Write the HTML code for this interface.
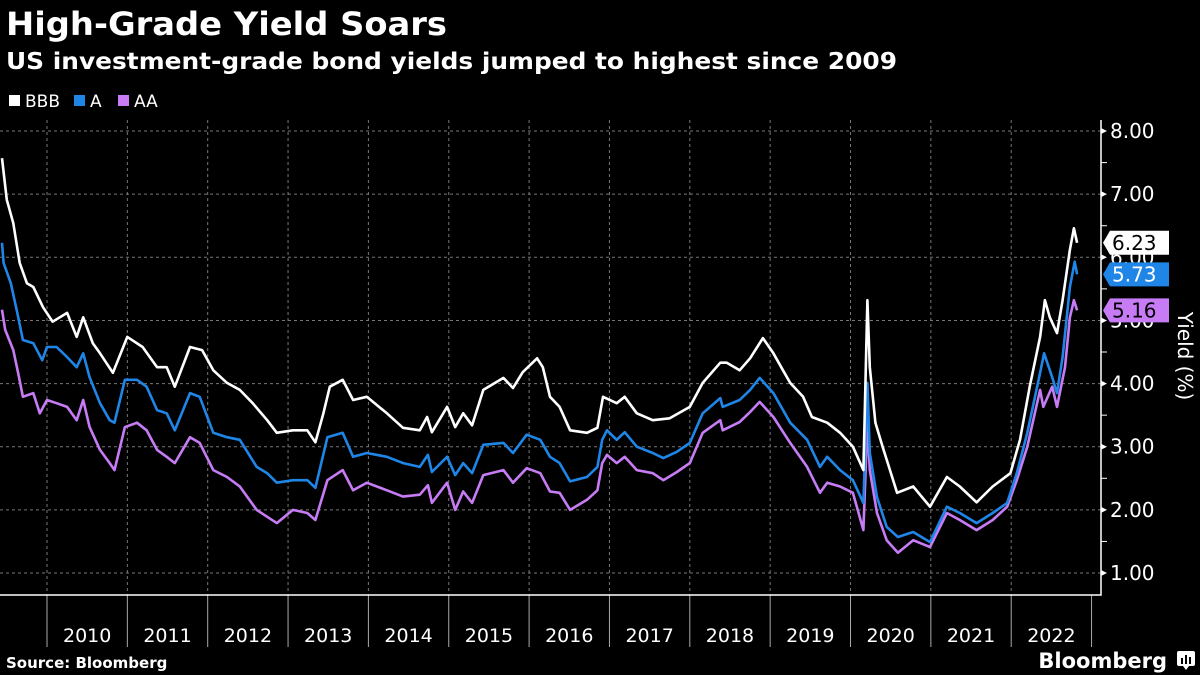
<!DOCTYPE html>
<html><head><meta charset="utf-8"><style>
body{margin:0;background:#000;width:1200px;height:675px;overflow:hidden}
svg{display:block}
text{font-family:"DejaVu Sans","Liberation Sans",sans-serif}
</style></head><body>
<svg id="c" width="1200" height="675" viewBox="0 0 1200 675">
<text x="6" y="35" fill="#fff" font-size="32" font-weight="bold" textLength="441" lengthAdjust="spacingAndGlyphs">High-Grade Yield Soars</text>
<text x="6" y="69" fill="#fff" font-size="23" font-weight="bold" textLength="891" lengthAdjust="spacingAndGlyphs">US investment-grade bond yields jumped to highest since 2009</text>
<g>
<g><rect x="9" y="95" width="11" height="11" fill="#fff"/><text x="25" y="107" fill="#fff" font-size="17" font-family="Liberation Sans">BBB</text></g>
<g><rect x="74" y="95" width="11" height="11" fill="#1f86e8"/><text x="90" y="107" fill="#fff" font-size="17" font-family="Liberation Sans">A</text></g>
<g><rect x="118" y="95" width="11" height="11" fill="#c77cf5"/><text x="134" y="107" fill="#fff" font-size="17" font-family="Liberation Sans">AA</text></g>
</g>
<g id="grid"></g>
<g id="axes"></g>
<g id="series"></g>
<g id="tags"></g>
<text transform="translate(1178,356) rotate(90)" text-anchor="middle" fill="#fff" font-size="20" font-family="Liberation Sans">Yield (%)</text>
<text x="6" y="668" fill="#fff" font-size="15" font-weight="bold">Source: Bloomberg</text>
<text x="1167" y="668" text-anchor="end" fill="#fff" font-size="21" font-weight="bold" font-family="Liberation Sans">Bloomberg</text>
<g><rect x="1177" y="651" width="18" height="15" rx="2" fill="#fff"/><path d="M1183 666 l3 4 l3 -4z" fill="#fff"/><rect x="1181" y="658" width="2" height="6" fill="#000"/><rect x="1185" y="655" width="2" height="9" fill="#000"/><rect x="1189" y="657" width="2" height="7" fill="#000"/></g>
</svg>
<script>
const yTicks=[1,2,3,4,5,6,7,8];
const years=[2010,2011,2012,2013,2014,2015,2016,2017,2018,2019,2020,2021,2022];
const bbbDates=[2009.44,2009.50,2009.58,2009.66,2009.75,2009.83,2009.95,2010.07,2010.25,2010.37,2010.45,2010.57,2010.66,2010.82,2011.00,2011.19,2011.37,2011.49,2011.59,2011.78,2011.93,2012.07,2012.24,2012.40,2012.56,2012.74,2012.86,2013.06,2013.24,2013.34,2013.44,2013.52,2013.68,2013.81,2013.98,2014.23,2014.43,2014.64,2014.73,2014.79,2014.98,2015.08,2015.18,2015.29,2015.43,2015.68,2015.80,2015.92,2016.10,2016.17,2016.26,2016.38,2016.51,2016.72,2016.85,2016.92,2017.09,2017.19,2017.34,2017.54,2017.75,2018.00,2018.16,2018.38,2018.46,2018.62,2018.75,2018.91,2019.04,2019.16,2019.25,2019.41,2019.52,2019.71,2019.87,2020.03,2020.16,2020.21,2020.24,2020.31,2020.40,2020.58,2020.78,2020.99,2021.20,2021.36,2021.57,2021.77,2021.99,2022.11,2022.23,2022.36,2022.42,2022.48,2022.57,2022.64,2022.73,2022.78,2022.82];
const bbbValues=[7.57,6.91,6.54,5.91,5.59,5.53,5.21,4.98,5.12,4.74,5.05,4.64,4.48,4.17,4.74,4.58,4.26,4.26,3.95,4.58,4.53,4.21,4.01,3.90,3.69,3.42,3.22,3.26,3.26,3.07,3.53,3.95,4.06,3.74,3.79,3.53,3.30,3.26,3.47,3.23,3.63,3.31,3.53,3.34,3.90,4.09,3.93,4.18,4.40,4.26,3.79,3.63,3.26,3.22,3.30,3.79,3.69,3.79,3.53,3.42,3.45,3.63,4.01,4.33,4.33,4.21,4.40,4.72,4.48,4.21,4.01,3.79,3.47,3.38,3.22,3.00,2.63,5.32,4.26,3.38,3.00,2.27,2.37,2.05,2.52,2.37,2.12,2.37,2.58,3.11,3.95,4.74,5.32,5.05,4.80,5.32,6.12,6.46,6.23];
const aDates=[2009.44,2009.46,2009.55,2009.63,2009.70,2009.83,2009.94,2010.00,2010.12,2010.25,2010.37,2010.45,2010.53,2010.66,2010.78,2010.84,2010.97,2011.12,2011.24,2011.37,2011.49,2011.59,2011.78,2011.90,2012.07,2012.24,2012.40,2012.61,2012.74,2012.86,2013.06,2013.24,2013.34,2013.49,2013.68,2013.81,2013.98,2014.23,2014.43,2014.64,2014.74,2014.79,2014.98,2015.08,2015.18,2015.29,2015.43,2015.68,2015.80,2015.97,2016.14,2016.26,2016.38,2016.51,2016.72,2016.85,2016.91,2016.97,2017.09,2017.19,2017.34,2017.54,2017.67,2017.84,2018.00,2018.16,2018.38,2018.41,2018.62,2018.75,2018.87,2019.04,2019.25,2019.46,2019.62,2019.71,2019.87,2020.03,2020.16,2020.21,2020.24,2020.33,2020.45,2020.59,2020.78,2020.99,2021.20,2021.36,2021.57,2021.77,2021.95,2022.07,2022.20,2022.36,2022.41,2022.51,2022.57,2022.64,2022.73,2022.79,2022.82];
const aValues=[6.23,5.91,5.59,5.12,4.69,4.64,4.37,4.58,4.58,4.42,4.26,4.48,4.10,3.69,3.42,3.38,4.06,4.06,3.95,3.58,3.53,3.26,3.85,3.79,3.22,3.15,3.11,2.68,2.58,2.43,2.47,2.47,2.35,3.15,3.22,2.84,2.90,2.84,2.74,2.68,2.87,2.60,2.84,2.55,2.74,2.58,3.03,3.06,2.90,3.19,3.11,2.84,2.74,2.45,2.52,2.68,3.11,3.26,3.11,3.23,3.00,2.90,2.82,2.92,3.06,3.53,3.77,3.63,3.74,3.90,4.09,3.85,3.38,3.11,2.68,2.84,2.63,2.47,2.11,4.01,2.90,2.20,1.73,1.57,1.65,1.49,2.05,1.95,1.79,1.95,2.11,2.58,3.22,4.17,4.48,4.10,3.85,4.42,5.53,5.93,5.73];
const aaDates=[2009.44,2009.48,2009.58,2009.64,2009.70,2009.83,2009.91,2010.00,2010.12,2010.25,2010.37,2010.45,2010.53,2010.66,2010.78,2010.84,2010.97,2011.12,2011.24,2011.37,2011.49,2011.59,2011.78,2011.90,2012.07,2012.24,2012.40,2012.61,2012.74,2012.86,2013.06,2013.24,2013.34,2013.49,2013.68,2013.81,2013.98,2014.23,2014.43,2014.64,2014.74,2014.79,2014.98,2015.08,2015.18,2015.29,2015.43,2015.68,2015.80,2015.97,2016.14,2016.26,2016.38,2016.51,2016.72,2016.85,2016.91,2016.97,2017.09,2017.19,2017.34,2017.54,2017.67,2017.84,2018.00,2018.16,2018.38,2018.41,2018.62,2018.75,2018.87,2019.04,2019.25,2019.46,2019.62,2019.71,2019.87,2020.03,2020.16,2020.21,2020.24,2020.33,2020.45,2020.59,2020.78,2020.99,2021.20,2021.36,2021.57,2021.77,2021.95,2022.07,2022.20,2022.36,2022.40,2022.51,2022.57,2022.67,2022.73,2022.78,2022.82];
const aaValues=[5.17,4.85,4.53,4.17,3.79,3.85,3.53,3.74,3.69,3.63,3.42,3.74,3.31,2.95,2.74,2.63,3.31,3.38,3.26,2.95,2.84,2.74,3.15,3.06,2.63,2.52,2.37,2.00,1.89,1.79,2.00,1.95,1.84,2.47,2.63,2.31,2.43,2.31,2.21,2.24,2.39,2.11,2.43,2.00,2.29,2.11,2.55,2.63,2.43,2.66,2.58,2.29,2.27,2.00,2.16,2.31,2.74,2.87,2.74,2.84,2.63,2.58,2.47,2.60,2.74,3.22,3.42,3.26,3.39,3.55,3.71,3.47,3.06,2.68,2.27,2.43,2.37,2.27,1.68,3.38,2.63,1.95,1.52,1.32,1.52,1.41,1.95,1.84,1.68,1.84,2.05,2.47,3.00,3.90,3.63,3.95,3.63,4.26,5.05,5.32,5.16];
const seriesNames=['aa','a','bbb'];
const lastLabels=['5.16','5.73','6.23'];

const NS='http://www.w3.org/2000/svg';
const X=t=>47+(t-2010)*80.35;
const Y=v=>573-(v-1)*63.14;
const TOP=120,BOT=595,RIGHT=1101;
function mk(tag,attrs,parent){const e=document.createElementNS(NS,tag);for(const k in attrs)e.setAttribute(k,attrs[k]);parent.appendChild(e);return e;}
const grid=document.getElementById('grid'),axes=document.getElementById('axes'),ser=document.getElementById('series'),tags=document.getElementById('tags');
yTicks.forEach(v=>{
  const l=mk('line',{x1:0,x2:RIGHT,y1:Y(v),y2:Y(v),stroke:'#777','stroke-dasharray':'3,3','stroke-width':1},grid);
  
  
  const tk=mk('path',{d:`M${RIGHT} ${Y(v)-3} L${RIGHT+6} ${Y(v)} L${RIGHT} ${Y(v)+3}Z`,fill:'#fff'},axes);
  
  
  const t=mk('text',{x:1110,y:Y(v)+7,fill:'#fff','font-size':20,'font-family':'Liberation Sans'},axes);
  t.textContent=v.toFixed(2);
  
  
  if(v<8){const m=mk('line',{x1:RIGHT,x2:RIGHT+6,y1:Y(v+0.5),y2:Y(v+0.5),stroke:'#fff','stroke-width':1},axes);
  
  }
});
years.concat([2023]).forEach(yr=>{
  const x=X(yr);
  if(yr<2023){const g=mk('line',{x1:x,x2:x,y1:TOP,y2:BOT,stroke:'#777','stroke-dasharray':'3,3','stroke-width':1},grid);
  
  }
  const d=mk('line',{x1:x,x2:x,y1:BOT,y2:647,stroke:'#aaa','stroke-width':1},axes);
  
  
});
years.forEach(yr=>{
  const t=mk('text',{x:X(yr+0.5),y:642,fill:'#fff','font-size':19,'text-anchor':'middle','font-family':'Liberation Sans'},axes);
  t.textContent=yr;
  
  
});
const ax=mk('path',{d:`M0 ${BOT} L${RIGHT} ${BOT} L${RIGHT} ${TOP}`,stroke:'#fff','stroke-width':1.5,fill:'none'},axes);


const data=[[aaDates,aaValues,'#c77cf5'],[aDates,aValues,'#1f86e8'],[bbbDates,bbbValues,'#ffffff']];
data.forEach((s,i)=>{
  const d=s[0].map((t,j)=>(j?'L':'M')+X(t).toFixed(1)+' '+Y(s[1][j]).toFixed(1)).join(' ');
  const p=mk('path',{d:d,stroke:s[2],'stroke-width':2.6,fill:'none','stroke-linejoin':'round'},ser);
  
  
  const v=s[1][s[1].length-1],y=Y(v);
  const g=mk('g',{},tags);
  
  
  mk('path',{d:`M1103 ${y} L1110 ${y-12} L1169 ${y-12} L1169 ${y+12} L1110 ${y+12}Z`,fill:s[2]},g);
  const t=mk('text',{x:1112,y:y+7,fill:i==1?'#fff':'#000','font-size':20,'font-family':'Liberation Sans'},g);
  t.textContent=lastLabels[i];
});
</script>
</body></html>
